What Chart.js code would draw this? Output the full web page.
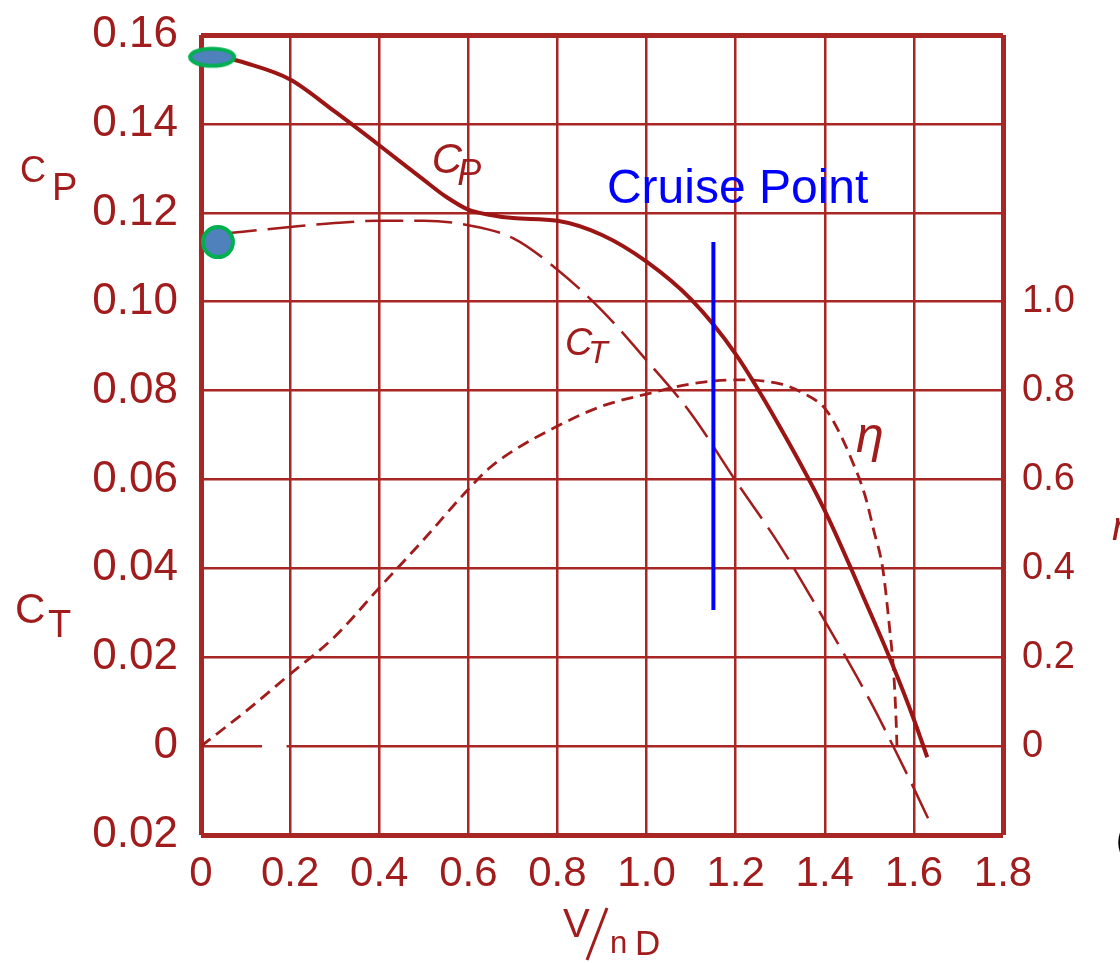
<!DOCTYPE html>
<html>
<head>
<meta charset="utf-8">
<script src="https://cdn.jsdelivr.net/npm/chart.js@4.4.0/dist/chart.umd.min.js"></script>
<style>
  html, body { margin: 0; padding: 0; background: #fff; overflow: hidden; }
  canvas { display: block; }
</style>
</head>
<body>
<canvas id="prop-chart" width="1120" height="963"></canvas>
<script>
// V/nD sample points
const xCp = [0.03, 0.1, 0.2, 0.3, 0.4, 0.5, 0.55, 0.6, 0.65, 0.7, 0.8, 0.9, 1.0, 1.1, 1.2, 1.3, 1.4, 1.5, 1.55, 1.6, 1.63];
const cp  = [0.1555, 0.1537, 0.150, 0.1428, 0.1352, 0.1274, 0.1236, 0.1207, 0.1195, 0.1188, 0.1182, 0.1150, 0.1090, 0.1005, 0.0882, 0.0717, 0.0530, 0.0305, 0.0188, 0.0060, -0.0025];

const xCt = [0.04, 0.2, 0.3, 0.4, 0.5, 0.6, 0.7, 0.8, 0.9, 1.0, 1.1, 1.2, 1.3, 1.4, 1.5, 1.55, 1.6, 1.64];
const ct  = [0.1152, 0.1168, 0.1177, 0.1182, 0.1182, 0.1172, 0.1143, 0.1072, 0.0980, 0.0868, 0.0748, 0.0597, 0.0450, 0.0282, 0.0105, 0.0007, -0.0095, -0.0180];

const xEta = [0, 0.1, 0.2, 0.3, 0.4, 0.5, 0.6, 0.65, 0.7, 0.8, 0.9, 1.0, 1.1, 1.2, 1.3, 1.35, 1.4, 1.43, 1.46, 1.49, 1.51, 1.53, 1.545, 1.555, 1.56, 1.562];
const eta  = [0, 0.078, 0.162, 0.246, 0.356, 0.465, 0.578, 0.628, 0.664, 0.720, 0.765, 0.792, 0.815, 0.824, 0.815, 0.795, 0.760, 0.711, 0.645, 0.565, 0.485, 0.400, 0.270, 0.160, 0.060, 0.0];

// cruise point marker line and the two highlighted start values
const cruiseX = [1.15, 1.15];
const cruiseY = [0.1134, 0.0306];
const cpStart = [0.025, 0.155];
const ctStart = [0.038, 0.1134];

// axis ticks
const xTickVals   = [0, 0.2, 0.4, 0.6, 0.8, 1.0, 1.2, 1.4, 1.6, 1.8];
const xTickLabels = ["0", "0.2", "0.4", "0.6", "0.8", "1.0", "1.2", "1.4", "1.6", "1.8"];
const cTickVals   = [-0.02, 0, 0.02, 0.04, 0.06, 0.08, 0.10, 0.12, 0.14, 0.16];
const cTickLabels = ["0.02", "0", "0.02", "0.04", "0.06", "0.08", "0.10", "0.12", "0.14", "0.16"];
const etaTickVals   = [0, 0.2, 0.4, 0.6, 0.8, 1.0];
const etaTickLabels = ["0", "0.2", "0.4", "0.6", "0.8", "1.0"];

const INK = "#a11d1d";
const GRID = "#a82623";
const FONT = "'Liberation Sans', Arial, sans-serif";

const pts = (xs, ys) => xs.map((x, i) => ({ x: x, y: ys[i] }));

// ellipse marker drawn once into a small canvas
function ellipseMarker() {
  const c = document.createElement("canvas");
  c.width = 50; c.height = 24;
  const g = c.getContext("2d");
  g.beginPath();
  g.ellipse(25, 12, 22, 8.5, 0, 0, Math.PI * 2);
  g.fillStyle = "#4f81bd";
  g.fill();
  g.lineWidth = 4;
  g.strokeStyle = "#00b050";
  g.stroke();
  return c;
}

function edgeWidth(ctx, n) {
  return (ctx.index === 0 || ctx.index === n - 1) ? 5 : 2.5;
}

// fixed axis sizes, no extra label padding
function fixWidth(w) {
  return s => { s.width = w; s.paddingTop = 0; s.paddingBottom = 0; };
}

function put(ctx, text, px, py, font, color) {
  ctx.font = font;
  ctx.fillStyle = color || INK;
  ctx.textAlign = "left";
  ctx.textBaseline = "alphabetic";
  ctx.fillText(text, px, py);
}

const handLabels = {
  id: "handLabels",
  beforeDatasetsDraw(chart) {
    // the original zero line has a small break near V/nD = 0.15
    const { ctx, scales: { x, y } } = chart;
    ctx.save();
    ctx.strokeStyle = "#fff";
    ctx.lineWidth = 5;
    ctx.beginPath();
    ctx.moveTo(x.getPixelForValue(0.137), y.getPixelForValue(0));
    ctx.lineTo(x.getPixelForValue(0.192), y.getPixelForValue(0));
    ctx.stroke();
    ctx.restore();
  },
  afterDraw(chart) {
    const { ctx, scales: { x, y } } = chart;
    const X = v => x.getPixelForValue(v);
    const Y = v => y.getPixelForValue(v);
    ctx.save();

    // curve names
    put(ctx, "C", X(0.518), Y(0.1289), "italic 42px " + FONT);
    put(ctx, "P", X(0.575), Y(0.1262), "italic 36px " + FONT);
    put(ctx, "C", X(0.817), Y(0.0880), "italic 38px " + FONT);
    put(ctx, "T", X(0.869), Y(0.0862), "italic 32px " + FONT);
    put(ctx, "η", X(1.470), Y(0.0662), "italic 50px " + FONT);

    put(ctx, "Cruise Point", X(0.911), Y(0.1222), "48px " + FONT, "#0000ff");

    // axis names
    put(ctx, "C", 20, 182, "36px " + FONT);
    put(ctx, "P", 52, 200, "38px " + FONT);
    put(ctx, "C", 15, 623, "42px " + FONT);
    put(ctx, "T", 48, 637, "38px " + FONT);
    put(ctx, "η", 1112, 540, "italic 40px " + FONT);

    // V/nD
    put(ctx, "V", 563, 937, "40px " + FONT);
    ctx.strokeStyle = INK;
    ctx.lineWidth = 3;
    ctx.beginPath();
    ctx.moveTo(607, 908);
    ctx.lineTo(587, 960);
    ctx.stroke();
    put(ctx, "n", 610, 953, "31px " + FONT);
    put(ctx, "D", 635, 955, "35px " + FONT);

    put(ctx, "(", 1116, 852, "36px " + FONT, "#000");
    ctx.restore();
  },
};

new Chart(document.getElementById("prop-chart").getContext("2d"), {
  type: "line",
  data: {
    datasets: [
      {
        data: [{ x: cpStart[0], y: cpStart[1] }],
        pointStyle: ellipseMarker(),
        pointRadius: 12,
        showLine: false,
        clip: false,
      },
      {
        data: [{ x: ctStart[0], y: ctStart[1] }],
        pointStyle: "circle",
        pointRadius: 15,
        pointBackgroundColor: "#4f81bd",
        pointBorderColor: "#00b050",
        pointBorderWidth: 4,
        showLine: false,
        clip: false,
      },
      {
        data: pts(cruiseX, cruiseY),
        borderColor: "#0000ff",
        borderWidth: 4,
        pointRadius: 0,
      },
      {
        label: "Cp",
        data: pts(xCp, cp),
        borderColor: "#9c1515",
        borderWidth: 4,
        pointRadius: 0,
        cubicInterpolationMode: "monotone",
      },
      {
        label: "CT",
        data: pts(xCt, ct),
        borderColor: "#a31c1c",
        borderWidth: 2.5,
        borderDash: [38, 11],
        pointRadius: 0,
        cubicInterpolationMode: "monotone",
      },
      {
        label: "eta",
        data: pts(xEta, eta),
        yAxisID: "y1",
        borderColor: "#a31c1c",
        borderWidth: 2.8,
        borderDash: [12, 7],
        pointRadius: 0,
        cubicInterpolationMode: "monotone",
      },
    ],
  },
  options: {
    responsive: false,
    animation: false,
    layout: { padding: { top: 35, left: 0, right: 0, bottom: 0 } },
    plugins: {
      legend: { display: false },
      tooltip: { enabled: false },
    },
    scales: {
      x: {
        type: "linear",
        min: 0,
        max: 1.8,
        afterBuildTicks: s => { s.ticks = xTickVals.map(v => ({ value: v })); },
        afterFit: s => { s.height = 128; s.paddingLeft = 0; s.paddingRight = 0; },
        ticks: {
          color: INK,
          font: { family: FONT, size: 42 },
          padding: 14,
          maxRotation: 0,
          autoSkip: false,
          callback: (v, i) => xTickLabels[i],
        },
        grid: { color: GRID, lineWidth: c => edgeWidth(c, xTickVals.length), drawTicks: false },
        border: { display: false },
      },
      y: {
        position: "left",
        min: -0.02,
        max: 0.16,
        afterBuildTicks: s => { s.ticks = cTickVals.map(v => ({ value: v })); },
        afterFit: fixWidth(201),
        ticks: {
          color: INK,
          font: { family: FONT, size: 44 },
          padding: 23,
          autoSkip: false,
          callback: (v, i) => cTickLabels[i],
        },
        grid: { color: GRID, lineWidth: c => edgeWidth(c, cTickVals.length), drawTicks: false },
        border: { display: false },
      },
      y1: {
        position: "right",
        min: -0.2,
        max: 1.6,
        afterBuildTicks: s => { s.ticks = etaTickVals.map(v => ({ value: v })); },
        afterFit: fixWidth(117),
        ticks: {
          color: INK,
          font: { family: FONT, size: 38 },
          padding: 19,
          autoSkip: false,
          callback: (v, i) => etaTickLabels[i],
        },
        grid: { display: false, drawTicks: false },
        border: { display: false },
      },
    },
  },
  plugins: [handLabels],
});
</script>
</body>
</html>
